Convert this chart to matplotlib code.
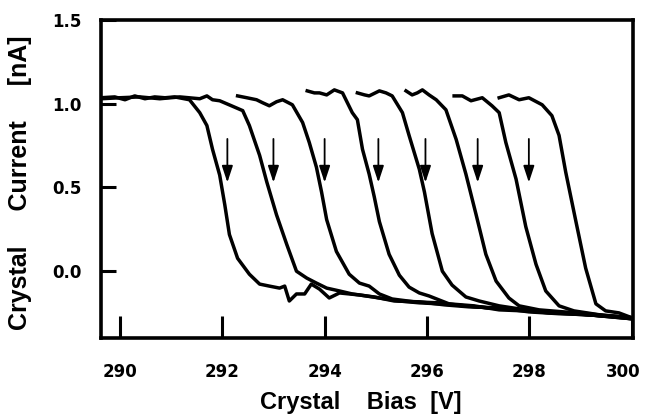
import matplotlib
matplotlib.use("Agg")
import matplotlib.pyplot as plt
from matplotlib.transforms import ScaledTranslation

# bias sweeps (V, nA)
a_x = [289.63, 289.90, 290.10, 290.29, 290.49, 290.68, 290.88, 291.07, 291.36, 291.56, 291.70, 291.81, 291.95,
       292.05, 292.14, 292.30, 292.53, 292.73, 292.92, 293.12, 293.22, 293.31, 293.45, 293.61, 293.74, 293.90,
       294.09, 294.29, 294.68, 295.07, 295.46, 295.85, 296.24, 296.76, 297.41, 298.05, 298.71, 299.36, 300.0]
a_y = [1.036, 1.041, 1.024, 1.047, 1.030, 1.041, 1.036, 1.041, 1.024, 0.947, 0.870, 0.728, 0.574,
       0.396, 0.219, 0.077, -0.018, -0.077, -0.089, -0.101, -0.089, -0.178, -0.136, -0.136, -0.077, -0.107,
       -0.160, -0.130, -0.142, -0.160, -0.178, -0.189, -0.195, -0.207, -0.225, -0.237, -0.249, -0.266, -0.284]

b_x = [289.63, 290.00, 290.39, 290.78, 291.17, 291.56, 291.70, 291.81, 291.95, 292.18, 292.40, 292.53, 292.73,
       292.87, 293.06, 293.26, 293.45, 293.65, 293.84, 294.04, 294.29, 294.54, 294.97, 295.36, 295.85, 296.34,
       296.82, 297.41, 297.99, 298.58, 299.16, 300.0]
b_y = [1.030, 1.036, 1.041, 1.030, 1.041, 1.030, 1.047, 1.024, 1.018, 0.988, 0.959, 0.870, 0.692,
       0.533, 0.337, 0.160, 0.0, -0.041, -0.071, -0.101, -0.118, -0.136, -0.154, -0.178, -0.183, -0.201,
       -0.213, -0.219, -0.243, -0.254, -0.260, -0.278]

c_x = [292.30, 292.48, 292.67, 292.79, 292.92, 293.06, 293.18, 293.37, 293.57, 293.70, 293.84, 293.94, 294.04,
       294.23, 294.48, 294.68, 294.87, 295.07, 295.32, 295.75, 296.24, 296.73, 297.21, 297.80, 298.38, 298.97,
       299.55, 300.0]
c_y = [1.047, 1.036, 1.024, 1.006, 0.988, 1.012, 1.024, 0.994, 0.888, 0.769, 0.621, 0.473, 0.308,
       0.118, -0.018, -0.071, -0.089, -0.136, -0.166, -0.183, -0.189, -0.207, -0.219, -0.231, -0.249, -0.254,
       -0.272, -0.284]

d_x = [293.66, 293.80, 293.90, 294.04, 294.19, 294.35, 294.54, 294.64, 294.74, 294.87, 294.97, 295.07, 295.26,
       295.46, 295.65, 295.85, 296.04, 296.43, 296.92, 297.41, 297.89, 298.48, 299.06, 299.55, 300.0]
d_y = [1.077, 1.065, 1.065, 1.053, 1.083, 1.065, 0.947, 0.905, 0.728, 0.580, 0.444, 0.296, 0.101,
       -0.024, -0.095, -0.130, -0.148, -0.195, -0.207, -0.231, -0.237, -0.249, -0.260, -0.266, -0.278]

e_x = [294.64, 294.78, 294.87, 295.07, 295.20, 295.32, 295.52, 295.65, 295.85, 295.95, 296.10, 296.30, 296.49,
       296.76, 297.02, 297.41, 297.80, 298.28, 298.77, 299.36, 300.0]
e_y = [1.065, 1.053, 1.047, 1.077, 1.065, 1.047, 0.947, 0.811, 0.609, 0.473, 0.225, 0.0, -0.083,
       -0.154, -0.178, -0.207, -0.225, -0.243, -0.249, -0.266, -0.278]

f_x = [295.59, 295.71, 295.81, 295.91, 296.04, 296.18, 296.37, 296.57, 296.76, 296.96, 297.15, 297.35, 297.60,
       297.80, 298.19, 298.67, 299.16, 299.65, 300.0]
f_y = [1.077, 1.053, 1.065, 1.083, 1.053, 1.024, 0.964, 0.787, 0.580, 0.337, 0.101, -0.059, -0.160,
       -0.207, -0.231, -0.243, -0.254, -0.272, -0.284]

g_x = [296.53, 296.69, 296.86, 297.08, 297.27, 297.41, 297.54, 297.74, 297.93, 298.13, 298.32, 298.58, 298.87,
       299.36, 300.0]
g_y = [1.047, 1.047, 1.018, 1.036, 0.988, 0.947, 0.769, 0.550, 0.266, 0.041, -0.118, -0.207, -0.237,
       -0.260, -0.278]

h_x = [297.41, 297.60, 297.80, 297.99, 298.25, 298.44, 298.58, 298.71, 298.81, 298.91, 299.10, 299.30, 299.49,
       299.75, 300.0]
h_y = [1.036, 1.053, 1.024, 1.036, 0.994, 0.929, 0.811, 0.592, 0.444, 0.296, 0.018, -0.195, -0.237,
       -0.249, -0.278]

curves = [(a_x, a_y), (b_x, b_y), (c_x, c_y), (d_x, d_y), (e_x, e_y), (f_x, f_y), (g_x, g_y), (h_x, h_y)]

# arrows marking the set points
arrow_x = [292.1, 293.0, 294.0, 295.05, 295.97, 296.99, 297.99]
arrow_top = 0.79
arrow_bot = 0.53

x_ticks = [290, 292, 294, 296, 298, 300]
y_ticks = [0.0, 0.5, 1.0, 1.5]

fig = plt.figure(figsize=(6.47, 4.18), dpi=100)
ax = fig.add_axes([0.156, 0.191, 0.822, 0.761])

for cx, cy in curves:
    ax.plot(cx, cy, color='black', lw=2.5, solid_joinstyle='round')

for xa in arrow_x:
    ax.annotate('', xy=(xa, arrow_bot), xytext=(xa, arrow_top),
                arrowprops=dict(arrowstyle='-|>,head_length=1.0,head_width=0.33', color='black',
                                lw=1.3, mutation_scale=10, shrinkA=0, shrinkB=0))

ax.set_xlim(289.63, 300.02)
ax.set_ylim(-0.40, 1.50)
ax.set_xticks(x_ticks)
ax.set_yticks(y_ticks)
ax.set_xticklabels([str(t) for t in x_ticks])
ax.set_yticklabels(['%.1f' % t for t in y_ticks])

for s in ax.spines.values():
    s.set_linewidth(2.6)

ax.tick_params(axis='x', direction='in', length=16, width=2.2, pad=18)
ax.tick_params(axis='y', direction='in', length=11, width=2.2, pad=14)
for lab in ax.get_xticklabels() + ax.get_yticklabels():
    lab.set_fontfamily('DejaVu Sans')
    lab.set_fontweight('bold')
    lab.set_fontsize(12)

# last x label sits at the figure edge, nudge it in a little
last = ax.get_xticklabels()[-1]
last.set_transform(last.get_transform() + ScaledTranslation(-6 / 72, 0, fig.dpi_scale_trans))

ax.set_xlabel('Crystal    Bias  [V]', fontfamily='Liberation Sans', fontweight='bold', fontsize=17)
ax.set_ylabel('Crystal     Current     [nA]', fontfamily='Liberation Sans', fontweight='bold', fontsize=18)
ax.xaxis.set_label_coords(0.489, -0.165)
ax.yaxis.set_label_coords(-0.13, 0.49)

fig.savefig('out.png', dpi=100)
